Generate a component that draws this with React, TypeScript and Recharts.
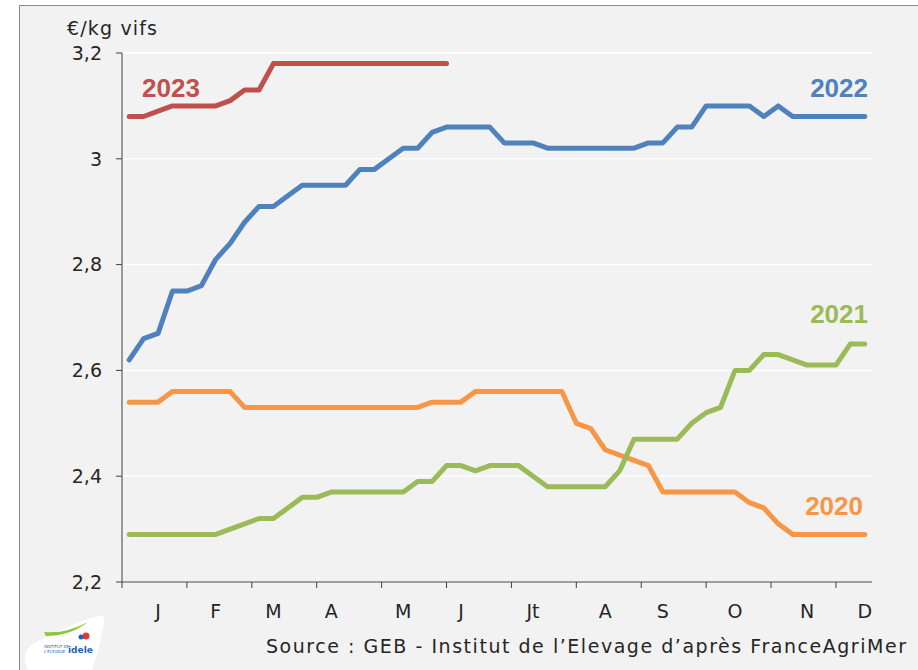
import { LineChart, Line, XAxis, YAxis, CartesianGrid } from 'recharts'

// weekly prices, €/kg vifs, week 1..52
const weeks = Array.from({ length: 52 }, (_, i) => i + 1)

const y2020 = [
  2.54, 2.54, 2.54, 2.56, 2.56, 2.56, 2.56, 2.56, 2.53, 2.53, 2.53, 2.53, 2.53,
  2.53, 2.53, 2.53, 2.53, 2.53, 2.53, 2.53, 2.53, 2.54, 2.54, 2.54, 2.56, 2.56,
  2.56, 2.56, 2.56, 2.56, 2.56, 2.50, 2.49, 2.45, 2.44, 2.43, 2.42, 2.37, 2.37,
  2.37, 2.37, 2.37, 2.37, 2.35, 2.34, 2.31, 2.29, 2.29, 2.29, 2.29, 2.29, 2.29,
]
const y2021 = [
  2.29, 2.29, 2.29, 2.29, 2.29, 2.29, 2.29, 2.30, 2.31, 2.32, 2.32, 2.34, 2.36,
  2.36, 2.37, 2.37, 2.37, 2.37, 2.37, 2.37, 2.39, 2.39, 2.42, 2.42, 2.41, 2.42,
  2.42, 2.42, 2.40, 2.38, 2.38, 2.38, 2.38, 2.38, 2.41, 2.47, 2.47, 2.47, 2.47,
  2.50, 2.52, 2.53, 2.60, 2.60, 2.63, 2.63, 2.62, 2.61, 2.61, 2.61, 2.65, 2.65,
]
const y2022 = [
  2.62, 2.66, 2.67, 2.75, 2.75, 2.76, 2.81, 2.84, 2.88, 2.91, 2.91, 2.93, 2.95,
  2.95, 2.95, 2.95, 2.98, 2.98, 3.00, 3.02, 3.02, 3.05, 3.06, 3.06, 3.06, 3.06,
  3.03, 3.03, 3.03, 3.02, 3.02, 3.02, 3.02, 3.02, 3.02, 3.02, 3.03, 3.03, 3.06,
  3.06, 3.10, 3.10, 3.10, 3.10, 3.08, 3.10, 3.08, 3.08, 3.08, 3.08, 3.08, 3.08,
]
const y2023 = [
  3.08, 3.08, 3.09, 3.10, 3.10, 3.10, 3.10, 3.11, 3.13, 3.13, 3.18, 3.18, 3.18,
  3.18, 3.18, 3.18, 3.18, 3.18, 3.18, 3.18, 3.18, 3.18, 3.18,
]

const months = ['J', 'F', 'M', 'A', 'M', 'J', 'Jt', 'A', 'S', 'O', 'N', 'D']
const monthWeeks = [3, 7, 11, 15, 20, 24, 29, 34, 38, 43, 48, 52]
const monthBounds = [0, 4.5, 9, 13.5, 18, 22.5, 27, 31.5, 36, 40.5, 45, 49.5]
const yTicks = [2.2, 2.4, 2.6, 2.8, 3.0, 3.2]

const FONT = '"DejaVu Sans", sans-serif'
const AXIS = '#404040'
const TEXT = '#262626'

const data = weeks.map((w, i) => ({
  x: w - 0.5,
  y2020: y2020[i],
  y2021: y2021[i],
  y2022: y2022[i],
  y2023: y2023[i],
}))

const labelXs = monthWeeks.map((w) => w - 0.5)

function MonthTick({ x, y, payload }: any) {
  const k = labelXs.indexOf(payload.value)
  if (k >= 0) {
    return (
      <text x={x} y={y + 36} textAnchor="middle" fontSize={19} fontFamily={FONT} fill={TEXT}>
        {months[k]}
      </text>
    )
  }
  return <line x1={x} x2={x} y1={y} y2={y + 6} stroke={AXIS} strokeWidth={1} />
}

const fmt = (v: number) => (v === 3 ? '3' : v.toFixed(1).replace('.', ','))

export default function App() {
  return (
    <div style={{ position: 'fixed', left: 0, top: 0, width: 918, height: 670, background: '#fff' }}>
      <svg width={918} height={670} style={{ position: 'absolute', left: 0, top: 0 }}>
        <rect x={19.5} y={5.5} width={1000} height={1000} fill="#f2f2f2" stroke="#8c8c8c" />
        <path d="M26 664 Q21 650 36 642 Q70 624 98 616 Q106 614 104 624 Q99 650 92 670 L28 670 Z" fill="#fff" />
        <path d="M44 632 Q66 634 88 622 Q70 636 46 636 Z" fill="#8cc63f" />
        <circle cx={86} cy={636} r={3.5} fill="#e53935" />
        <circle cx={81} cy={637} r={2.5} fill="#1e63b5" />
        <text x={44} y={648} fontSize={4} fontFamily={FONT} fill="#1e63b5">INSTITUT DE</text>
        <text x={44} y={653} fontSize={4} fontFamily={FONT} fill="#1e63b5">L'ELEVAGE</text>
        <text x={68} y={653} fontSize={9} fontWeight="bold" fontFamily={FONT} fill="#1e63b5">idele</text>
      </svg>
      <div style={{ position: 'absolute', left: 0, top: 0 }}>
        <LineChart width={918} height={670} data={data} margin={{ top: 53, right: 46, left: 62, bottom: 58 }}>
          <CartesianGrid vertical={false} stroke="#ffffff" strokeWidth={1.5} />
          <XAxis
            dataKey="x"
            type="number"
            domain={[0, 52]}
            ticks={[...monthBounds, ...labelXs]}
            interval={0}
            tickSize={0}
            tickMargin={0}
            tickLine={false}
            height={30}
            axisLine={{ stroke: AXIS, strokeWidth: 1 }}
            tick={MonthTick}
          />
          <YAxis
            type="number"
            domain={[2.2, 3.2]}
            ticks={yTicks}
            interval={0}
            width={60}
            tickSize={6}
            tickMargin={14}
            axisLine={{ stroke: AXIS, strokeWidth: 1 }}
            tickLine={{ stroke: AXIS }}
            tickFormatter={fmt}
            tick={{ fontSize: 19, fontFamily: FONT, fill: TEXT }}
          />
          <Line dataKey="y2020" stroke="#f79646" strokeWidth={5} dot={false} strokeLinecap="round" strokeLinejoin="round" isAnimationActive={false} />
          <Line dataKey="y2021" stroke="#9bbb59" strokeWidth={5} dot={false} strokeLinecap="round" strokeLinejoin="round" isAnimationActive={false} />
          <Line dataKey="y2022" stroke="#4f81bd" strokeWidth={5} dot={false} strokeLinecap="round" strokeLinejoin="round" isAnimationActive={false} />
          <Line dataKey="y2023" stroke="#c0504d" strokeWidth={5} dot={false} strokeLinecap="round" strokeLinejoin="round" isAnimationActive={false} />
        </LineChart>
      </div>
      <svg width={918} height={670} style={{ position: 'absolute', left: 0, top: 0, pointerEvents: 'none' }}>
        <text x={67} y={35} fontSize={19} fontFamily={FONT} fill={TEXT} textLength={90} lengthAdjust="spacing">€/kg vifs</text>
        <g fontSize={26} fontWeight="bold" fontFamily='"Liberation Sans", Arial, sans-serif'>
          <text x={142} y={97} fill="#c0504d">2023</text>
          <text x={868} y={97} textAnchor="end" fill="#4f81bd">2022</text>
          <text x={868} y={323} textAnchor="end" fill="#9bbb59">2021</text>
          <text x={863} y={515} textAnchor="end" fill="#f79646">2020</text>
        </g>
        <text x={266} y={653} fontSize={19} fontFamily={FONT} fill={TEXT} textLength={640} lengthAdjust="spacing">
          Source : GEB - Institut de l’Elevage d’après FranceAgriMer
        </text>
      </svg>
    </div>
  )
}
